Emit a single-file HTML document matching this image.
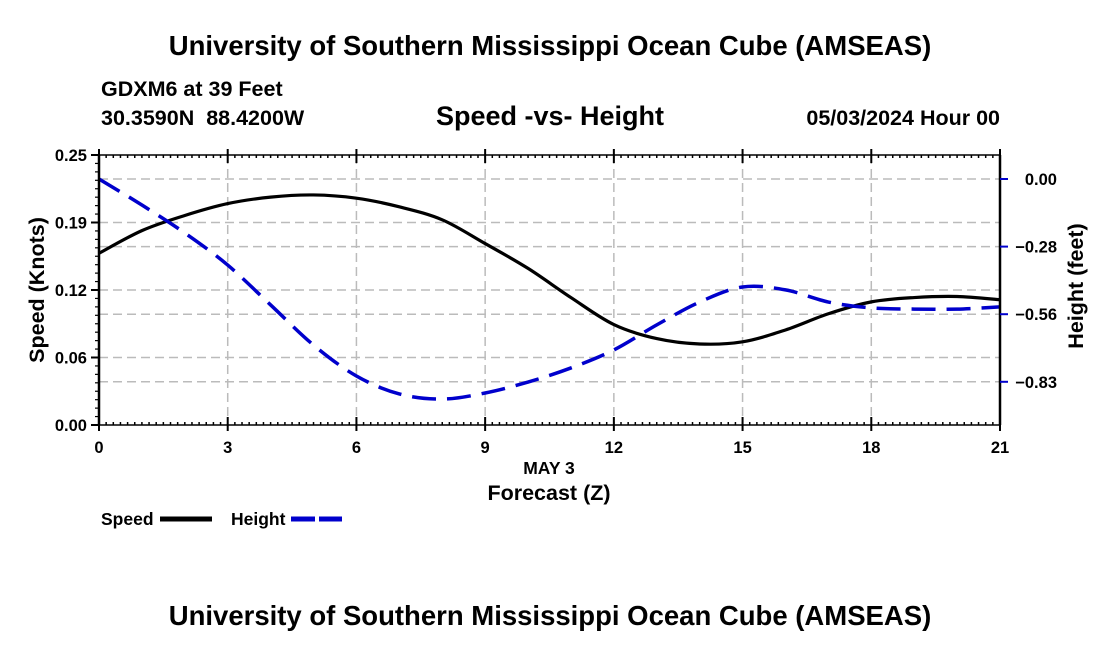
<!DOCTYPE html>
<html><head><meta charset="utf-8"><style>
body{margin:0;background:#fff;}
svg text{font-family:"Liberation Sans",Arial,sans-serif;font-weight:bold;fill:#000;white-space:pre;}
</style></head><body>
<svg width="1100" height="650" viewBox="0 0 1100 650">
<text x="550" y="55" font-size="27.5" text-anchor="middle">University of Southern Mississippi Ocean Cube (AMSEAS)</text>
<text x="101" y="96" font-size="21.5">GDXM6 at 39 Feet</text>
<text x="101" y="125" font-size="21.5" xml:space="preserve">30.3590N  88.4200W</text>
<text x="550" y="125" font-size="27" text-anchor="middle">Speed -vs- Height</text>
<text x="1000" y="125" font-size="21.5" text-anchor="end">05/03/2024 Hour 00</text>
<g id="grid"></g>
<g id="series"></g>
<g id="axes"></g>
<text transform="translate(44,290) rotate(-90)" font-size="21.5" text-anchor="middle">Speed (Knots)</text>
<text transform="translate(1083,286) rotate(-90)" font-size="21.5" text-anchor="middle">Height (feet)</text>
<text x="549" y="474" font-size="17.5" text-anchor="middle">MAY 3</text>
<text x="549" y="500" font-size="21.5" text-anchor="middle">Forecast (Z)</text>
<g>
<text x="101" y="525" font-size="17.5">Speed</text>
<line x1="160" y1="519" x2="212" y2="519" stroke="#000" stroke-width="5"/>
<text x="231" y="525" font-size="17.5">Height</text>
<line x1="291" y1="519" x2="342" y2="519" stroke="#0000cc" stroke-width="5" stroke-dasharray="24,4"/>
</g>
<text x="550" y="625" font-size="27.5" text-anchor="middle">University of Southern Mississippi Ocean Cube (AMSEAS)</text>
</svg>
<script>
const hours=[0,1,2,3,4,5,6,7,8,9,10,11,12,13,14,15,16,17,18,19,20,21];
const speed=[0.159,0.180,0.194,0.205,0.211,0.213,0.210,0.202,0.190,0.168,0.145,0.118,0.093,0.080,0.075,0.077,0.088,0.103,0.114,0.118,0.119,0.116];
const height=[0.00,-0.107,-0.222,-0.354,-0.518,-0.683,-0.81,-0.884,-0.905,-0.88,-0.835,-0.777,-0.703,-0.60,-0.506,-0.444,-0.456,-0.506,-0.53,-0.535,-0.535,-0.526];
const xTicks=[0,3,6,9,12,15,18,21];
const yTicks=[0,0.0625,0.125,0.1875,0.25];
const yLabels=["0.00","0.06","0.12","0.19","0.25"];
const y2Ticks=[0,-0.278,-0.556,-0.834];
const y2Labels=["0.00","\u22120.28","\u22120.56","\u22120.83"];
const L=99,R=1000,T=155,B=425;
const X=h=>L+h*(R-L)/21;
const Y=v=>B-v*(B-T)/0.25;
const Y2=v=>179-v/0.278*67.6;
const NS="http://www.w3.org/2000/svg";
function mk(tag,attrs,parent){const e=document.createElementNS(NS,tag);for(const k in attrs)e.setAttribute(k,attrs[k]);parent.appendChild(e);return e;}
const grid=document.getElementById('grid'),axes=document.getElementById('axes'),series=document.getElementById('series');
const gs={stroke:"#bbb","stroke-width":1.5,"stroke-dasharray":"9,5"};
xTicks.forEach(t=>{if(t>0&&t<21){const l=mk('line',Object.assign({x1:X(t),x2:X(t),y1:T,y2:B},gs),grid);

}});
yTicks.forEach(t=>{if(t>0&&t<0.25){const l=mk('line',Object.assign({x1:L,x2:R,y1:Y(t),y2:Y(t)},gs),grid);

}});
y2Ticks.forEach(t=>{const l=mk('line',Object.assign({x1:L,x2:R,y1:Y2(t),y2:Y2(t)},gs),grid);

});
mk('line',{x1:L,x2:L,y1:T,y2:B,stroke:"#000","stroke-width":2.5},axes);
mk('line',{x1:R,x2:R,y1:T,y2:B,stroke:"#000","stroke-width":2.5},axes);
mk('line',{x1:L,x2:R,y1:T,y2:T,stroke:"#000","stroke-width":1.5},axes);
mk('line',{x1:L,x2:R,y1:B,y2:B,stroke:"#000","stroke-width":1.5},axes);
for(let h=0;h<=21;h+=1/6){mk('line',{x1:X(h),x2:X(h),y1:T,y2:T+3,stroke:"#000","stroke-width":1.5},axes);mk('line',{x1:X(h),x2:X(h),y1:B,y2:B-3,stroke:"#000","stroke-width":1.5},axes);}
for(let v=0;v<=0.25001;v+=0.0625/8){mk('line',{x1:L-4,x2:L,y1:Y(v),y2:Y(v),stroke:"#000","stroke-width":1.2},axes);}
xTicks.forEach(t=>{mk('line',{x1:X(t),x2:X(t),y1:B-8,y2:B+6,stroke:"#000","stroke-width":2},axes);mk('line',{x1:X(t),x2:X(t),y1:T-6,y2:T+8,stroke:"#000","stroke-width":2},axes);
const tx=mk('text',{x:X(t),y:B+28,"font-size":16.5,"text-anchor":"middle"},axes);tx.textContent=t;

});
yTicks.forEach((t,i)=>{mk('line',{x1:L-8,x2:L,y1:Y(t),y2:Y(t),stroke:"#000","stroke-width":2},axes);
const tx=mk('text',{x:L-12,y:Y(t)+6,"font-size":16.5,"text-anchor":"end"},axes);tx.textContent=yLabels[i];

});
y2Ticks.forEach((t,i)=>{mk('line',{x1:R,x2:R+8,y1:Y2(t),y2:Y2(t),stroke:"#0000cc","stroke-width":2},axes);
const tx=mk('text',{x:1057,y:Y2(t)+6,"font-size":16.5,"text-anchor":"end"},axes);tx.textContent=y2Labels[i];

});
function smooth(pts){let d=`M${pts[0][0]},${pts[0][1]}`;for(let i=0;i<pts.length-1;i++){const p0=pts[Math.max(i-1,0)],p1=pts[i],p2=pts[i+1],p3=pts[Math.min(i+2,pts.length-1)];
d+=` C${p1[0]+(p2[0]-p0[0])/6},${p1[1]+(p2[1]-p0[1])/6} ${p2[0]-(p3[0]-p1[0])/6},${p2[1]-(p3[1]-p1[1])/6} ${p2[0]},${p2[1]}`;}return d;}
const sp=mk('path',{d:smooth(hours.map((h,i)=>[X(h),Y(speed[i])])),fill:"none",stroke:"#000","stroke-width":3.2},series);


const hp=mk('path',{d:smooth(hours.map((h,i)=>[X(h),Y2(height[i])])),fill:"none",stroke:"#0000cc","stroke-width":3.5,"stroke-dasharray":"24,11"},series);


</script>
</body></html>
